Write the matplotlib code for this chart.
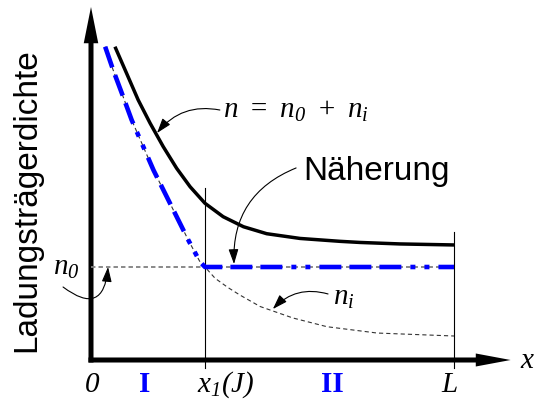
import matplotlib.pyplot as plt

# all math text is set in italic Times-like serif, digits included
plt.rcParams['mathtext.fontset'] = 'custom'
plt.rcParams['mathtext.rm'] = 'Liberation Serif:italic'
plt.rcParams['mathtext.it'] = 'Liberation Serif:italic'
plt.rcParams['mathtext.bf'] = 'Liberation Serif:bold'
plt.rcParams['lines.scale_dashes'] = False

# sample length normalised to L = 1, densities normalised to n0 = 1
L = 1.0
n0 = 1.0
x1 = 0.314

# total carrier density n = n0 + ni
x_n = [0.066, 0.098, 0.130, 0.163, 0.199, 0.236, 0.273, 0.314, 0.364, 0.420,
       0.484, 0.576, 0.686, 0.741, 0.851, 1.0]
n = [3.369, 3.083, 2.796, 2.545, 2.294, 2.061, 1.863, 1.685, 1.541, 1.433,
     1.358, 1.307, 1.276, 1.264, 1.248, 1.237]

# injected density ni
x_ni = [0.039, 0.061, 0.085, 0.112, 0.140, 0.172, 0.204, 0.236, 0.268, 0.300,
        0.314, 0.342, 0.377, 0.410, 0.466, 0.556, 0.650, 0.788, 1.0]
ni = [3.369, 3.118, 2.868, 2.581, 2.330, 2.043, 1.792, 1.541, 1.290, 1.057,
      1.0, 0.878, 0.780, 0.699, 0.575, 0.452, 0.358, 0.290, 0.258]

# approximation: ni up to x1, then n0 up to L
k = x_ni.index(x1)
x_approx = x_ni[:k + 1] + [L]
y_approx = ni[:k + 1] + [n0]

fig = plt.figure(figsize=(5.36, 4.01), dpi=100)
ax = fig.add_axes([0, 0, 1, 1])
ax.set_xlim(-91 / 363, 445 / 363)
ax.set_ylim(-41 / 93, 360 / 93)
ax.axis('off')

# axes with arrow heads
ax.arrow(-0.007, 0, 1.163, 0, width=0.054, head_width=0.14, head_length=0.096,
         length_includes_head=True, color='black', lw=0)
ax.arrow(0, -0.027, 0, 3.823, width=0.0138, head_width=0.04, head_length=0.39,
         length_includes_head=True, color='black', lw=0)

# x1 and L markers
ax.plot([x1, x1], [-0.086, 1.85], color='black', lw=0.8)
ax.plot([L, L], [-0.086, 1.376], color='black', lw=0.8)

# n0 level
ax.plot([0, L], [n0, n0], color='#808080', lw=1.3, dashes=(3.2, 2.2))

# ni curve
ax.plot(x_ni, ni, color='#333333', lw=0.8, dashes=(3.0, 2.2))

# n curve
ax.plot(x_n, n, color='black', lw=2.5, solid_capstyle='butt', solid_joinstyle='round')

# approximation
ax.plot(x_approx, y_approx, color='#0000ff', lw=3.3, dash_capstyle='butt',
        dash_joinstyle='round',
        dashes=(15.8, 5.8, 15.8, 5.8, 15.8, 6.5, 3.6, 6.5, 3.6, 6.5))

serif = 'Liberation Serif'
fs = 21

# x tick labels
ax.text(0.003, -0.344, r'$0$', ha='center', va='baseline', fontsize=fs)
ax.text(0.149, -0.344, 'I', ha='center', va='baseline', fontsize=fs,
        family=serif, weight='bold', color='#0000ff')
ax.text(0.372, -0.344, r'$x_{1}(J)$', ha='center', va='baseline', fontsize=fs)
ax.text(0.664, -0.344, 'II', ha='center', va='baseline', fontsize=fs,
        family=serif, weight='bold', color='#0000ff')
ax.text(0.989, -0.344, r'$L$', ha='center', va='baseline', fontsize=fs)
ax.text(1.182, -0.086, r'$x$', ha='left', va='baseline', fontsize=fs)

ax.text(-0.178, 1.72, 'Ladungsträgerdichte', rotation=90, ha='center', va='center',
        fontsize=24, family='Liberation Sans')

arrow = dict(arrowstyle='-|>,head_length=0.9,head_width=0.3', color='black',
             lw=0.8, shrinkA=0, shrinkB=0, mutation_scale=10)

ax.text(0.364, 2.602, r'$n\ =\ n_{0}\ +\ n_{i}$', ha='left', va='baseline', fontsize=fs)
ax.annotate('', xy=(0.182, 2.441), xytext=(0.355, 2.688),
            arrowprops=dict(arrow, connectionstyle='arc3,rad=0.3'))

ax.text(0.584, 1.935, 'Näherung', ha='left', va='baseline', fontsize=24,
        family='Liberation Sans')
ax.annotate('', xy=(0.394, 1.032), xytext=(0.565, 2.065),
            arrowprops=dict(arrow, connectionstyle='arc3,rad=0.35'))

ax.text(-0.105, 0.914, r'$n_{0}$', ha='left', va='baseline', fontsize=fs)
ax.annotate('', xy=(0.047, 1.0), xytext=(-0.077, 0.785),
            arrowprops=dict(arrow, connectionstyle='arc3,rad=0.9'))

ax.text(0.667, 0.591, r'$n_{i}$', ha='left', va='baseline', fontsize=fs)
ax.annotate('', xy=(0.501, 0.548), xytext=(0.653, 0.710),
            arrowprops=dict(arrow, connectionstyle='arc3,rad=0.3'))

fig.savefig('out.png', dpi=100)
